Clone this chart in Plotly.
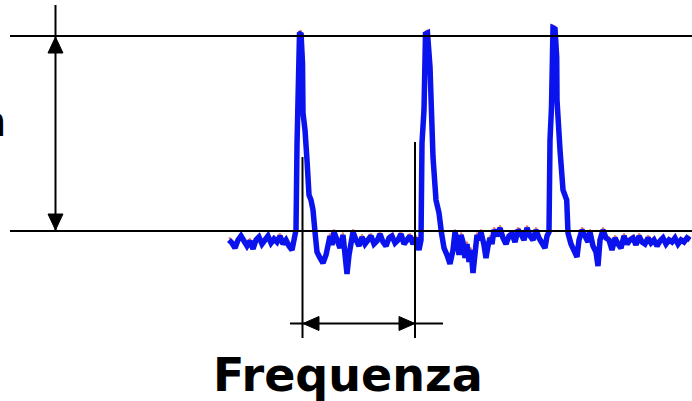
import plotly.graph_objects as go

# Signal readings: time (samples) and amplitude (arbitrary units, baseline ~0)
time = [229, 232, 235, 238, 241, 244, 247, 250, 253, 256, 259, 262, 265, 268, 271, 274, 277, 280, 283, 286,
        289, 292, 294, 296, 297, 298, 299.5, 301, 302.5, 303, 305, 307, 309, 311, 313, 315, 317, 320, 323, 326,
        328, 330, 332, 334, 337, 340, 343, 345, 347, 349, 351, 353, 356, 359, 362, 365, 368, 371, 374, 377,
        380, 383, 386, 389, 392, 395, 398, 401, 404, 407, 410, 413, 416, 419, 421, 422, 424, 425.5, 427.5, 430,
        431, 433, 436, 439, 441.5, 444, 447, 450, 453, 455, 457, 459, 461, 463, 465, 467, 469, 471, 473, 475,
        477, 479, 481, 484, 486, 488, 490, 492, 494, 497, 500, 503, 506, 509, 512, 515, 518, 521, 524, 527,
        530, 533, 536, 539, 542, 545, 547, 549, 550, 551.5, 553, 555, 556.7, 557, 560, 563, 566.7, 568, 571, 574,
        577, 579, 582, 585, 588, 590, 593, 596, 598, 600, 603, 606, 609, 612, 615, 618, 621, 624, 627, 630,
        633, 636, 639, 642, 645, 648, 651, 654, 657, 660, 663, 666, 669, 672, 675, 678, 681, 684, 687, 690]
amplitude = [-2, -5, -10, -2, 2, -3, -8, -3, -11, -2, 1, -6, -2, 2, -5, -1, -4, 2, -6, -2,
             -8, -12, -2, 8, 93, 130, 204, 205, 175, 125, 108, 78, 43, 38, 28, 6, -14, -20, -25, -17,
             -5, 2, -7, 6, -2, -10, 3, -17, -36, -17, -2, 6, -2, -8, 1, -6, -2, 2, -6, -3,
             4, -4, -8, 0, 2, -5, -2, 4, -6, -2, 2, -6, 0, -12, -2, 95, 128, 204, 205, 171,
             118, 81, 38, 25, 5, -10, -17, -26, -12, 6, -2, -17, 3, -4, -20, -6, -24, -12, -35, -12,
             3, -2, 6, -7, -20, -8, 0, -6, 8, 2, 10, 0, -6, 2, 4, -4, 8, 4, -2, 10,
             2, -2, 8, 0, -6, -10, 2, 6, 98, 131, 210, 209, 181, 138, 88, 48, 38, 5, -6, -12,
             -19, -2, 8, 2, -4, 6, -8, -14, -28, -2, 8, 0, -2, -12, 0, -6, -10, 2, -6, -2,
             0, -7, 2, -4, -6, 0, -5, -2, -8, -3, 0, -6, -2, -4, 0, -6, -2, -4, 0, -2]

label_text = "Frequenza"
side_text = "n"

W, H = 692, 401


def X(px):
    return px / W


def Y(py):
    return 1 - py / H


fig = go.Figure()
fig.add_trace(go.Scatter(x=time, y=[a + 2.5 for a in amplitude], mode="lines",
                         line=dict(color="#e8806a", width=2), hoverinfo="skip"))
fig.add_trace(go.Scatter(x=time, y=amplitude, mode="lines",
                         line=dict(color="#0a12ee", width=5.5), hoverinfo="skip"))

shapes = []
line_style = dict(color="black", width=2)
# horizontal reference lines
shapes.append(dict(type="line", xref="paper", yref="paper", x0=X(10), x1=X(692), y0=Y(36), y1=Y(36), line=line_style))
shapes.append(dict(type="line", xref="paper", yref="paper", x0=X(10), x1=X(692), y0=Y(231), y1=Y(231), line=line_style))
# vertical amplitude arrow
shapes.append(dict(type="line", xref="paper", yref="paper", x0=X(55.5), x1=X(55.5), y0=Y(5), y1=Y(231), line=line_style))
# vertical period markers
shapes.append(dict(type="line", xref="paper", yref="paper", x0=X(302.5), x1=X(302.5), y0=Y(157), y1=Y(338), line=line_style))
shapes.append(dict(type="line", xref="paper", yref="paper", x0=X(415), x1=X(415), y0=Y(142), y1=Y(338), line=line_style))
# horizontal period arrow
shapes.append(dict(type="line", xref="paper", yref="paper", x0=X(290), x1=X(443), y0=Y(323.5), y1=Y(323.5), line=line_style))


def tri(p):
    d = "M " + " L ".join(f"{X(a):.5f},{Y(b):.5f}" for a, b in p) + " Z"
    return dict(type="path", xref="paper", yref="paper", path=d, fillcolor="black", line=dict(color="black", width=1))


shapes.append(tri([(55.5, 37), (48, 53), (63, 53)]))
shapes.append(tri([(55.5, 230), (48, 214), (63, 214)]))
shapes.append(tri([(303, 323.5), (319, 316.5), (319, 330.5)]))
shapes.append(tri([(415, 323.5), (399, 316.5), (399, 330.5)]))

fig.update_layout(
    width=W, height=H,
    margin=dict(l=0, r=0, t=0, b=0),
    paper_bgcolor="white", plot_bgcolor="white",
    showlegend=False,
    xaxis=dict(range=[0, 692], visible=False, fixedrange=True),
    yaxis=dict(range=[-163, 238], visible=False, fixedrange=True),
    shapes=shapes,
    annotations=[
        dict(text=f"<b>{label_text}</b>", x=X(347.5), y=Y(375), xref="paper", yref="paper",
             xanchor="center", yanchor="middle", showarrow=False,
             font=dict(family="DejaVu Sans", size=46, color="black")),
        dict(text=side_text, x=X(9), y=Y(122), xref="paper", yref="paper",
             xanchor="right", yanchor="middle", showarrow=False,
             font=dict(family="DejaVu Sans", size=42, color="black")),
    ],
)

fig.write_html("out.html")
